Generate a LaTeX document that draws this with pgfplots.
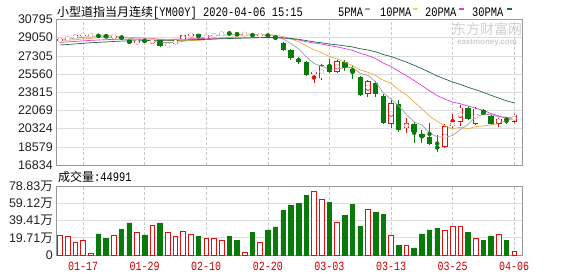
\documentclass[border=0pt]{standalone}
\usepackage{fontspec}
\usepackage{pgfplots}
\usepackage{pgfplotstable}
\pgfplotsset{compat=1.18}
\setmainfont{Liberation Sans}
\newfontfamily\cjk{Noto Sans CJK SC}
\newfontfamily\mono[FakeStretch=0.8]{Liberation Mono}

\definecolor{upred}{HTML}{E01010}
\definecolor{dngreen}{HTML}{0A7A0A}
\definecolor{ma5c}{HTML}{A0A0A0}
\definecolor{ma10c}{HTML}{F0A840}
\definecolor{ma10key}{HTML}{FFCC66}
\definecolor{ma20c}{HTML}{E23BE2}
\definecolor{ma30c}{HTML}{1E6B3C}
\definecolor{gridc}{HTML}{DDDDDD}
\definecolor{vgridc}{HTML}{C8C8C8}
\definecolor{framec}{HTML}{999999}
\definecolor{labelc}{HTML}{222222}
\definecolor{datec}{HTML}{CC0000}
\definecolor{wmark}{HTML}{CFCFCF}

% rising days: open, high, low, close
\pgfplotstableread{
i o h l c
0 28700 28980 28640 28930
1 28900 29050 28850 29000
2 29000 29300 28980 29270
3 29260 29360 29210 29330
4 29290 29330 29270 29310
7 29120 29240 28980 29170
10 28520 28760 28480 28710
12 28550 28880 28440 28840
14 28260 28500 28200 28390
15 28450 28840 28430 28780
16 28900 29320 28880 29270
17 29270 29400 29200 29360
19 29050 29290 28990 29260
20 29250 29360 29180 29270
21 29290 29560 29280 29530
24 29380 29420 29370 29400
26 29220 29380 29200 29340
33 25610 25800 24660 25770
34 25150 26560 24950 26400
36 25770 26880 25640 26820
40 23670 25010 23350 24880
43 20750 23030 20340 22780
45 20340 21320 19890 20870
50 18580 20750 18460 20580
51 20580 21770 20340 20910
52 20970 22560 20560 22340
54 20810 22400 20650 22240
57 20810 21390 20490 21290
59 20970 21750 20890 21670
}\ohlcup

% falling days: open, high, low, close
\pgfplotstableread{
i o h l c
5 29300 29340 29100 29170
6 29180 29290 29120 29150
8 29160 29220 28900 28970
9 28800 28850 28460 28520
11 28750 28900 28620 28700
13 28800 28880 28200 28250
18 29360 29380 29030 29090
22 29530 29560 29330 29400
23 29420 29460 29300 29380
25 29380 29420 29140 29220
27 29330 29380 29060 29200
28 29190 29230 28850 28960
29 28570 28640 27740 27840
30 27900 27950 26880 27100
31 27040 27200 26560 26730
32 26730 26850 25350 25450
35 26470 27040 25640 25770
37 26730 26880 25830 26150
38 26090 26370 25130 25770
39 25260 25420 23420 23580
41 24720 24850 23350 23670
42 23420 23610 20750 20870
44 22720 23030 19980 20240
46 20750 20940 18900 20010
47 19790 20240 18900 19530
48 19480 20870 18740 18840
49 18550 19700 18080 18480
53 22340 22490 21130 21290
55 22080 22240 21600 21670
56 21540 21600 20650 20810
58 21290 21320 20810 21130
}\ohlcdn

% moving averages of the close
\pgfplotstableread{
i m5 m10 m20 m30
0 28873 28769 28603 28355
1 28924 28816 28641 28396
2 28986 28855 28691 28455
3 29087 28925 28746 28511
4 29168 28986 28792 28565
5 29216 29045 28828 28603
6 29246 29085 28858 28645
7 29226 29106 28891 28688
8 29154 29121 28908 28723
9 28996 29082 28902 28736
10 28904 29060 28914 28755
11 28814 29030 28923 28771
12 28748 28987 28921 28790
13 28604 28879 28902 28790
14 28578 28787 28886 28791
15 28592 28748 28896 28801
16 28706 28760 28922 28825
17 28810 28779 28943 28854
18 28978 28791 28956 28869
19 29152 28865 28974 28890
20 29250 28921 28991 28917
21 29302 29004 29017 28950
22 29310 29060 29024 28967
23 29368 29173 29026 28992
24 29396 29274 29031 29016
25 29386 29318 29033 29037
26 29348 29325 29043 29057
27 29308 29309 29044 29065
28 29224 29296 29044 29069
29 28912 29154 29010 29034
30 28488 28937 28929 28973
31 27966 28657 28831 28897
32 27216 28262 28661 28770
33 26578 27901 28537 28651
34 26290 27601 28438 28554
35 26024 27256 28287 28441
36 26042 27004 28165 28363
37 26182 26699 28004 28262
38 26182 26380 27838 28156
39 25618 25954 27554 27991
40 25440 25732 27335 27863
41 24810 25426 27042 27696
42 23754 24968 26615 27430
43 23156 24669 26285 27248
44 22488 24053 25827 26976
45 21686 23563 25410 26712
46 20954 22882 24943 26404
47 20686 22220 24460 26076
48 19898 21527 23954 25734
49 19546 21017 23486 25375
50 19488 20587 23160 25085
51 19668 20311 22869 24798
52 20230 20458 22713 24563
53 20720 20309 22489 24293
54 21472 20509 22281 24054
55 21690 20589 22076 23803
56 21670 20669 21776 23518
57 21460 20845 21533 23255
58 21428 21074 21300 22994
59 21314 21393 21204 22788
}\mas

% volume (in 10k contracts), rising days
\pgfplotstableread{
i v
0 22.9
1 21.7
2 14.5
3 16.8
4 2.3
7 22.9
10 25.9
12 34.3
14 25.9
15 21.7
16 27.4
17 23.6
19 19.4
20 19.4
21 17.1
24 3.1
26 14.5
33 72.8
34 63.1
36 37.3
40 52.2
43 22.5
45 11.1
50 28.6
51 33.1
52 33.1
54 19.4
57 24.0
59 4.4991
}\volup

% volume, falling days
\pgfplotstableread{
i v
5 24.0
6 19.4
8 29.7
9 36.6
11 22.9
13 36.6
18 21.7
22 21.7
23 17.1
25 25.9
27 28.6
28 32.0
29 50.5
30 57.1
31 59.0
32 68.5
35 60.2
37 45.7
38 57.3
39 33.1
41 48.8
42 46.8
44 11.1
46 8.0
47 24.0
48 28.6
49 30.8
53 25.5
55 17.1
56 20.9
58 17.1
}\voldn

\pgfplotsset{
  kpanel/.style={
    scale only axis, width=465.8pt,
    xmin=-0.45, xmax=60.05,
    axis line style={framec, line width=0.8pt},
    xtick={3,11,19,27,35,43,51,59},
    major tick length=0pt,
    xmajorgrids, ymajorgrids,
    major x grid style={vgridc, line width=0.6pt, dash pattern=on 3pt off 2pt},
    major y grid style={gridc, line width=0.6pt},
    yticklabel style={font=\fontsize{12.5}{13}\selectfont, text=labelc, inner sep=0pt, xshift=-3.5pt},
    scaled ticks=false,
  },
  % a vertical stroke from the error bar machinery: wick or candle body
  stroke/.style 2 args={#1, only marks, mark=none, forget plot,
    error bars/.cd, y dir=both, y explicit, error mark=none,
    error bar style={line width=#2}},
}

\begin{document}
\begin{tikzpicture}
\useasboundingbox (0pt,0pt) rectangle (578pt,276pt);

% heading and legend
\node[anchor=base west, inner sep=0pt] at (57pt,259pt)
  {\fontsize{12}{12}\cjk 小型道指当月连续\fontsize{13}{13}\mono[YM00Y] 2020-04-06 15:15};
\node[anchor=base west, inner sep=0pt] at (338pt,259pt) {\fontsize{13}{13}\mono 5PMA};
\fill[ma5c] (365pt,265.5pt) rectangle (370pt,268pt);
\node[anchor=base west, inner sep=0pt] at (380pt,259pt) {\fontsize{13}{13}\mono 10PMA};
\fill[ma10key] (413pt,265.5pt) rectangle (418pt,268pt);
\node[anchor=base west, inner sep=0pt] at (425pt,259pt) {\fontsize{13}{13}\mono 20PMA};
\fill[ma20c] (459pt,265.5pt) rectangle (464pt,268pt);
\node[anchor=base west, inner sep=0pt] at (472pt,259pt) {\fontsize{13}{13}\mono 30PMA};
\fill[ma30c] (507pt,265.5pt) rectangle (512pt,268pt);

% site mark
\node[text=wmark, inner sep=0pt] at (487pt,246.5pt) {\fontsize{14}{14}\cjk 东方财富网};
\node[text=wmark, inner sep=0pt] at (487pt,233pt) {\fontsize{8}{8}\bfseries eastmoney.com};

% price panel
\begin{axis}[kpanel,
  at={(56.5pt,111pt)}, anchor=south west,
  height=145.5pt,
  ymin=16834, ymax=30795,
  ytick={16834,18579,20324,22069,23815,25560,27305,29050,30795},
  yticklabels={16834,18579,20324,22069,23815,25560,27305,29050,30795},
  xticklabels={},
]
% wicks
\addplot[stroke={upred}{1pt}] table[x=i, y expr={(\thisrow{h}+\thisrow{l})/2},
  y error expr={(\thisrow{h}-\thisrow{l})/2}] {\ohlcup};
\addplot[stroke={dngreen}{1pt}] table[x=i, y expr={(\thisrow{h}+\thisrow{l})/2},
  y error expr={(\thisrow{h}-\thisrow{l})/2}] {\ohlcdn};
% hollow bodies of rising days: red outline, white inside
\addplot[stroke={upred}{5.4pt}] table[x=i, y expr={(\thisrow{o}+\thisrow{c})/2},
  y error expr={max((\thisrow{c}-\thisrow{o})/2,45)}] {\ohlcup};
\addplot[stroke={white}{3.8pt}] table[x=i, y expr={(\thisrow{o}+\thisrow{c})/2},
  y error expr={max((\thisrow{c}-\thisrow{o})/2-77,0)}] {\ohlcup};
% solid bodies of falling days
\addplot[stroke={dngreen}{5.4pt}] table[x=i, y expr={(\thisrow{o}+\thisrow{c})/2},
  y error expr={max((\thisrow{o}-\thisrow{c})/2,45)}] {\ohlcdn};
% moving averages
\addplot[ma5c, line width=0.7pt] table[x=i, y=m5] {\mas};
\addplot[ma10c, line width=0.7pt] table[x=i, y=m10] {\mas};
\addplot[ma20c, line width=0.7pt] table[x=i, y=m20] {\mas};
\addplot[ma30c, line width=0.7pt] table[x=i, y=m30] {\mas};
\end{axis}

\node[anchor=base west, inner sep=0pt] at (58pt,94.5pt)
  {\fontsize{12}{12}\cjk 成交量\fontsize{13}{13}\mono:44991};

% volume panel
\begin{axis}[kpanel,
  at={(56.5pt,21pt)}, anchor=south west,
  height=69pt,
  ymin=0, ymax=78.83,
  ytick={0,19.71,39.41,59.12,78.83},
  yticklabels={0,19.71{\cjk 万},39.41{\cjk 万},59.12{\cjk 万},78.83{\cjk 万}},
  xticklabels={01-17,01-29,02-10,02-20,03-03,03-13,03-25,04-06},
  xticklabel style={font=\fontsize{12.5}{13}\mono, text=datec, anchor=base, inner sep=0pt, yshift=-15pt},
]
\addplot[ybar, bar width=4.6pt, bar shift=0pt, draw=upred, fill=white, line width=0.8pt]
  table[x=i, y=v] {\volup};
\addplot[ybar, bar width=4.6pt, bar shift=0pt, draw=dngreen, fill=dngreen, line width=0.8pt]
  table[x=i, y=v] {\voldn};
\end{axis}
\end{tikzpicture}
\end{document}
